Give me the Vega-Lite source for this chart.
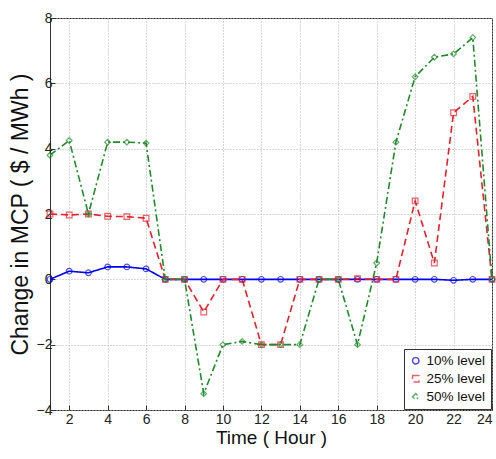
{
  "$schema": "https://vega.github.io/schema/vega-lite/v6.json",
  "width": 442,
  "height": 392,
  "autosize": {"type": "none"},
  "padding": {"left": 50, "top": 18, "right": 4, "bottom": 49},
  "background": "white",
  "config": {
    "font": "Liberation Sans",
    "view": {"stroke": "#333333", "strokeWidth": 1},
    "axis": {
      "grid": true,
      "gridColor": "#b0b0b0",
      "gridDash": [1, 2],
      "gridWidth": 1,
      "domain": false,
      "tickColor": "#333333",
      "tickSize": -5,
      "labelColor": "#222222",
      "labelFontSize": 13,
      "titleColor": "#111111",
      "titleFontWeight": "normal",
      "titleFontSize": 19
    }
  },
  "data": {
    "values": [
      {"hour": 1, "level": "10% level", "v": 0},
      {"hour": 2, "level": "10% level", "v": 0.25},
      {"hour": 3, "level": "10% level", "v": 0.2},
      {"hour": 4, "level": "10% level", "v": 0.38},
      {"hour": 5, "level": "10% level", "v": 0.38},
      {"hour": 6, "level": "10% level", "v": 0.32},
      {"hour": 7, "level": "10% level", "v": 0},
      {"hour": 8, "level": "10% level", "v": 0},
      {"hour": 9, "level": "10% level", "v": 0},
      {"hour": 10, "level": "10% level", "v": 0},
      {"hour": 11, "level": "10% level", "v": 0},
      {"hour": 12, "level": "10% level", "v": 0},
      {"hour": 13, "level": "10% level", "v": 0},
      {"hour": 14, "level": "10% level", "v": 0},
      {"hour": 15, "level": "10% level", "v": 0},
      {"hour": 16, "level": "10% level", "v": 0},
      {"hour": 17, "level": "10% level", "v": 0},
      {"hour": 18, "level": "10% level", "v": 0},
      {"hour": 19, "level": "10% level", "v": 0},
      {"hour": 20, "level": "10% level", "v": 0},
      {"hour": 21, "level": "10% level", "v": 0},
      {"hour": 22, "level": "10% level", "v": -0.03},
      {"hour": 23, "level": "10% level", "v": 0},
      {"hour": 24, "level": "10% level", "v": 0},
      {"hour": 1, "level": "25% level", "v": 2.0},
      {"hour": 2, "level": "25% level", "v": 1.97},
      {"hour": 3, "level": "25% level", "v": 2.0},
      {"hour": 4, "level": "25% level", "v": 1.93},
      {"hour": 5, "level": "25% level", "v": 1.92},
      {"hour": 6, "level": "25% level", "v": 1.87},
      {"hour": 7, "level": "25% level", "v": 0},
      {"hour": 8, "level": "25% level", "v": 0},
      {"hour": 9, "level": "25% level", "v": -1.0},
      {"hour": 10, "level": "25% level", "v": 0},
      {"hour": 11, "level": "25% level", "v": 0},
      {"hour": 12, "level": "25% level", "v": -2.0},
      {"hour": 13, "level": "25% level", "v": -2.0},
      {"hour": 14, "level": "25% level", "v": 0},
      {"hour": 15, "level": "25% level", "v": 0},
      {"hour": 16, "level": "25% level", "v": 0},
      {"hour": 17, "level": "25% level", "v": 0.02},
      {"hour": 18, "level": "25% level", "v": 0},
      {"hour": 19, "level": "25% level", "v": 0},
      {"hour": 20, "level": "25% level", "v": 2.4},
      {"hour": 21, "level": "25% level", "v": 0.5},
      {"hour": 22, "level": "25% level", "v": 5.1},
      {"hour": 23, "level": "25% level", "v": 5.6},
      {"hour": 24, "level": "25% level", "v": 0},
      {"hour": 1, "level": "50% level", "v": 3.8},
      {"hour": 2, "level": "50% level", "v": 4.25},
      {"hour": 3, "level": "50% level", "v": 2.0},
      {"hour": 4, "level": "50% level", "v": 4.2},
      {"hour": 5, "level": "50% level", "v": 4.2},
      {"hour": 6, "level": "50% level", "v": 4.17},
      {"hour": 7, "level": "50% level", "v": 0},
      {"hour": 8, "level": "50% level", "v": 0},
      {"hour": 9, "level": "50% level", "v": -3.5},
      {"hour": 10, "level": "50% level", "v": -2.0},
      {"hour": 11, "level": "50% level", "v": -1.9},
      {"hour": 12, "level": "50% level", "v": -2.0},
      {"hour": 13, "level": "50% level", "v": -2.0},
      {"hour": 14, "level": "50% level", "v": -2.0},
      {"hour": 15, "level": "50% level", "v": 0},
      {"hour": 16, "level": "50% level", "v": 0},
      {"hour": 17, "level": "50% level", "v": -2.0},
      {"hour": 18, "level": "50% level", "v": 0.5},
      {"hour": 19, "level": "50% level", "v": 4.2},
      {"hour": 20, "level": "50% level", "v": 6.2},
      {"hour": 21, "level": "50% level", "v": 6.8},
      {"hour": 22, "level": "50% level", "v": 6.9},
      {"hour": 23, "level": "50% level", "v": 7.4},
      {"hour": 24, "level": "50% level", "v": 0}
    ]
  },
  "encoding": {
    "x": {
      "field": "hour", "type": "quantitative",
      "scale": {"domain": [1, 24], "nice": false, "zero": false},
      "axis": {"values": [2, 4, 6, 8, 10, 12, 14, 16, 18, 20, 22, 24], "title": "Time ( Hour )", "titlePadding": 2, "labelPadding": 7, "labelFontSize": 14}
    },
    "y": {
      "field": "v", "type": "quantitative",
      "scale": {"domain": [-4, 8], "nice": false},
      "axis": {"values": [-4, -2, 0, 2, 4, 6, 8], "title": "Change in MCP ( $ / MWh )", "titleFontSize": 23, "titlePadding": 4, "labelPadding": 3, "labelFontSize": 14}
    },
    "color": {
      "field": "level", "type": "nominal",
      "scale": {"domain": ["10% level", "25% level", "50% level"], "range": ["#0000ee", "#e8202a", "#1f8a2a"]},
      "legend": {
        "title": null, "orient": "bottom-right", "offset": 1,
        "fillColor": "white", "strokeColor": "#333333", "padding": 5,
        "labelFontSize": 13.5, "labelColor": "#111111", "symbolSize": 40, "symbolStrokeWidth": 1.5,
        "rowPadding": 3
      }
    }
  },
  "layer": [
    {
      "mark": {"type": "line", "strokeWidth": 1.6},
      "encoding": {
        "strokeDash": {
          "field": "level", "type": "nominal",
          "scale": {"domain": ["10% level", "25% level", "50% level"], "range": [[1, 0], [7, 4], [7, 3, 2, 3]]},
          "legend": null
        }
      }
    },
    {
      "mark": {"type": "point", "filled": false, "size": 32, "strokeWidth": 1.2},
      "encoding": {
        "shape": {
          "field": "level", "type": "nominal",
          "scale": {"domain": ["10% level", "25% level", "50% level"], "range": ["circle", "square", "diamond"]},
          "legend": null
        }
      }
    }
  ]
}
